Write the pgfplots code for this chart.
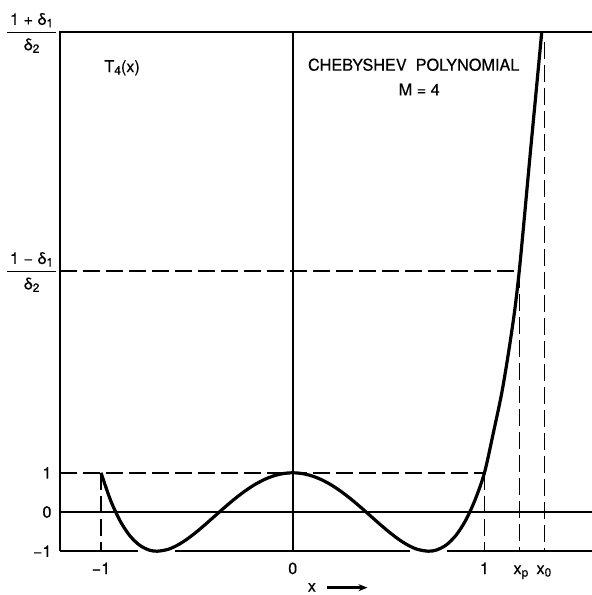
\documentclass[border=0pt]{standalone}
\usepackage{pgfplots}
\pgfplotsset{compat=1.18}
\usepackage{pgfplotstable}
\usepackage{fontspec}
\setmainfont{TeX Gyre Heros}[FakeBold=0.35]
\usetikzlibrary{arrows.meta}

% T_4(x) on the passband and its rise beyond x = 1
\pgfplotstableread{
x       y
-1.000  1.000
-0.950  0.296
-0.900 -0.231
-0.850 -0.604
-0.800 -0.843
-0.750 -0.969
-0.707 -1.000
-0.650 -0.952
-0.600 -0.843
-0.550 -0.688
-0.500 -0.500
-0.450 -0.292
-0.400 -0.075
-0.350  0.140
-0.300  0.345
-0.250  0.531
-0.200  0.693
-0.150  0.824
-0.100  0.921
-0.050  0.980
 0.000  1.000
 0.050  0.980
 0.100  0.921
 0.150  0.824
 0.200  0.693
 0.250  0.531
 0.300  0.345
 0.350  0.140
 0.400 -0.075
 0.450 -0.292
 0.500 -0.500
 0.550 -0.688
 0.600 -0.843
 0.650 -0.952
 0.707 -1.000
 0.750 -0.969
 0.800 -0.843
 0.850 -0.604
 0.900 -0.231
 0.950  0.296
 1.000  1.000
 1.046  2.010
 1.090  3.030
 1.125  4.050
 1.158  5.150
 1.182  6.170
 1.207  7.450
 1.239  9.150
 1.272 10.850
 1.299 12.250
}\chebcurve

\newcommand\lbl{\fontsize{16.3}{19}\selectfont}
\newcommand\sub[1]{\raisebox{-0.3ex}{\fontsize{12}{14}\selectfont #1}}

\begin{document}
\begin{tikzpicture}
\useasboundingbox (0,0) rectangle (592bp,595bp);
\begin{axis}[
  at={(60bp,43.8bp)}, anchor=south west,
  scale only axis, width=532bp, height=519.2bp,
  xmin=-1.214, xmax=1.561, ymin=-1, ymax=12.245,
  hide axis, clip=false,
  every axis plot/.append style={no marks},
  guide/.style={black, line width=1.5bp, dash pattern=on 17bp off 6bp},
  frame/.style={black, line width=2.2bp},
]
% frame and axes
\addplot[frame] coordinates {(-1.214,-1) (-1.214,12.245) (1.561,12.245)};
\addplot[frame] coordinates {(0,-1) (0,12.245)};
\addplot[black, line width=1.8bp] coordinates {(-1.214,0) (1.561,0)};
\addplot[frame] coordinates {(-1.214,-1) (-0.807,-1)};
\addplot[frame] coordinates {(-0.614,-1) (0.612,-1)};
\addplot[frame] coordinates {(0.805,-1) (1.561,-1)};

% dashed guide lines
\addplot[guide] coordinates {(-1.214,1) (1,1)};
\addplot[guide] coordinates {(-1,1) (-1,-1)};
\addplot[guide] coordinates {(1,1) (1,-1)};
\addplot[guide] coordinates {(-1.214,6.15) (1.182,6.15)};
\addplot[guide] coordinates {(1.182,6.15) (1.182,-1)};
\addplot[guide] coordinates {(1.313,12.0) (1.313,-1)};

% the polynomial
\addplot[black, line width=3.2bp, smooth, tension=0.5] table[x=x, y=y] {\chebcurve};

% value labels on the left
\node[font=\lbl, anchor=east] at (axis cs:-1.240,1) {1};
\node[font=\lbl, anchor=east] at (axis cs:-1.240,0) {0};
\node[font=\lbl, anchor=east] at (axis cs:-1.240,-1) {−1};
\setlength\tabcolsep{3pt}
\setlength\arrayrulewidth{1.8bp}
\node[font=\lbl, inner sep=0pt] at (axis cs:-1.362,12.20)
  {\begin{tabular}{c}1 + δ\sub{1}\\[1pt]\hline\rule{0pt}{17pt}δ\sub{2}\end{tabular}};
\node[font=\lbl, inner sep=0pt] at (axis cs:-1.362,6.10)
  {\begin{tabular}{c}1 − δ\sub{1}\\[1pt]\hline\rule{0pt}{17pt}δ\sub{2}\end{tabular}};

% labels along x
\node[font=\lbl, anchor=base] at (axis cs:-1,-1.582) {−1};
\node[font=\lbl, anchor=base] at (axis cs:0,-1.582) {0};
\node[font=\lbl, anchor=base] at (axis cs:1,-1.582) {1};
\node[font=\lbl, anchor=base] at (axis cs:1.190,-1.582) {x\sub{p}};
\node[font=\lbl, anchor=base] at (axis cs:1.310,-1.582) {x\sub{0}};
\node[font=\lbl, anchor=base, inner sep=0pt] at (axis cs:0.100,-2.030) {x};
\draw[-{Stealth[length=9bp,width=7bp]}, line width=2.4bp] (axis cs:0.179,-1.93) -- (axis cs:0.390,-1.93);

% titles
\node[font=\lbl] at (axis cs:-0.890,11.33) {T\sub{4}(x)};
\node[font=\lbl] at (axis cs:0.631,11.41) {CHEBYSHEV\ \ POLYNOMIAL};
\node[font=\lbl] at (axis cs:0.660,10.78) {M = 4};
\end{axis}
\end{tikzpicture}
\end{document}
